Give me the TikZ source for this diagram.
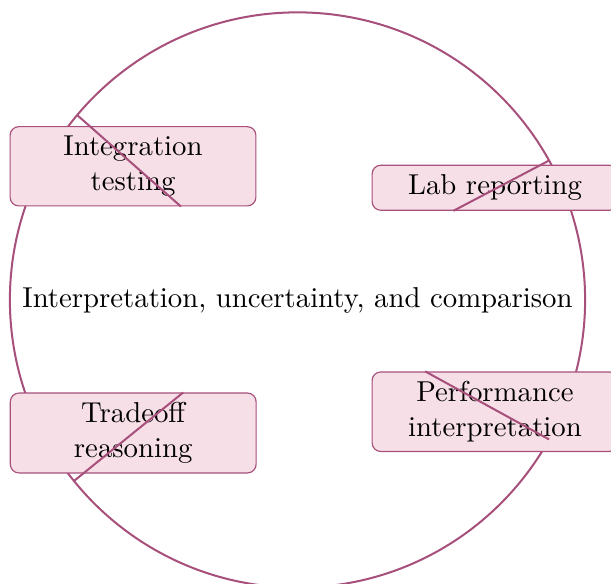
\documentclass[tikz,border=0pt]{standalone}
\usetikzlibrary{calc}
\definecolor{plum}{RGB}{168,80,124}
\definecolor{pinkfill}{RGB}{246,223,231}
\begin{document}
\begin{tikzpicture}[
  ring/.style={draw=plum, line width=0.7pt},
  topic/.style={draw=plum, fill=pinkfill, rounded corners=3pt, text width=78.8pt,
    align=center, inner sep=3.33pt, line width=0.4pt},
  spoke/.style={draw=plum, line width=0.7pt}]
\useasboundingbox (-103.44pt,-98.75pt) rectangle (109.0pt,104.3pt);
\node[circle, minimum size=200pt, inner sep=0pt, outer sep=0pt, ring] (c) at (0,0) {};
\node (t) at (0,0) {Interpretation, uncertainty, and comparison};
\node[topic] (b1) at (140.9:73.7pt) {Integration testing};
\node[topic] (b2) at (29.6:79.0pt) {Lab reporting};
\node[topic] (b3) at (-29.5:78.9pt) {Performance interpretation};
\node[topic] (b4) at (219.0:73.5pt) {Tradeoff reasoning};
\draw[spoke] (c.140.9) -- (b1.320.9);
\draw[spoke] (c.29.6) -- (b2.209.6);
\draw[spoke] (c.-29.5) -- (b3.150.5);
\draw[spoke] (c.219.0) -- (b4.39.0);
\end{tikzpicture}
\end{document}
